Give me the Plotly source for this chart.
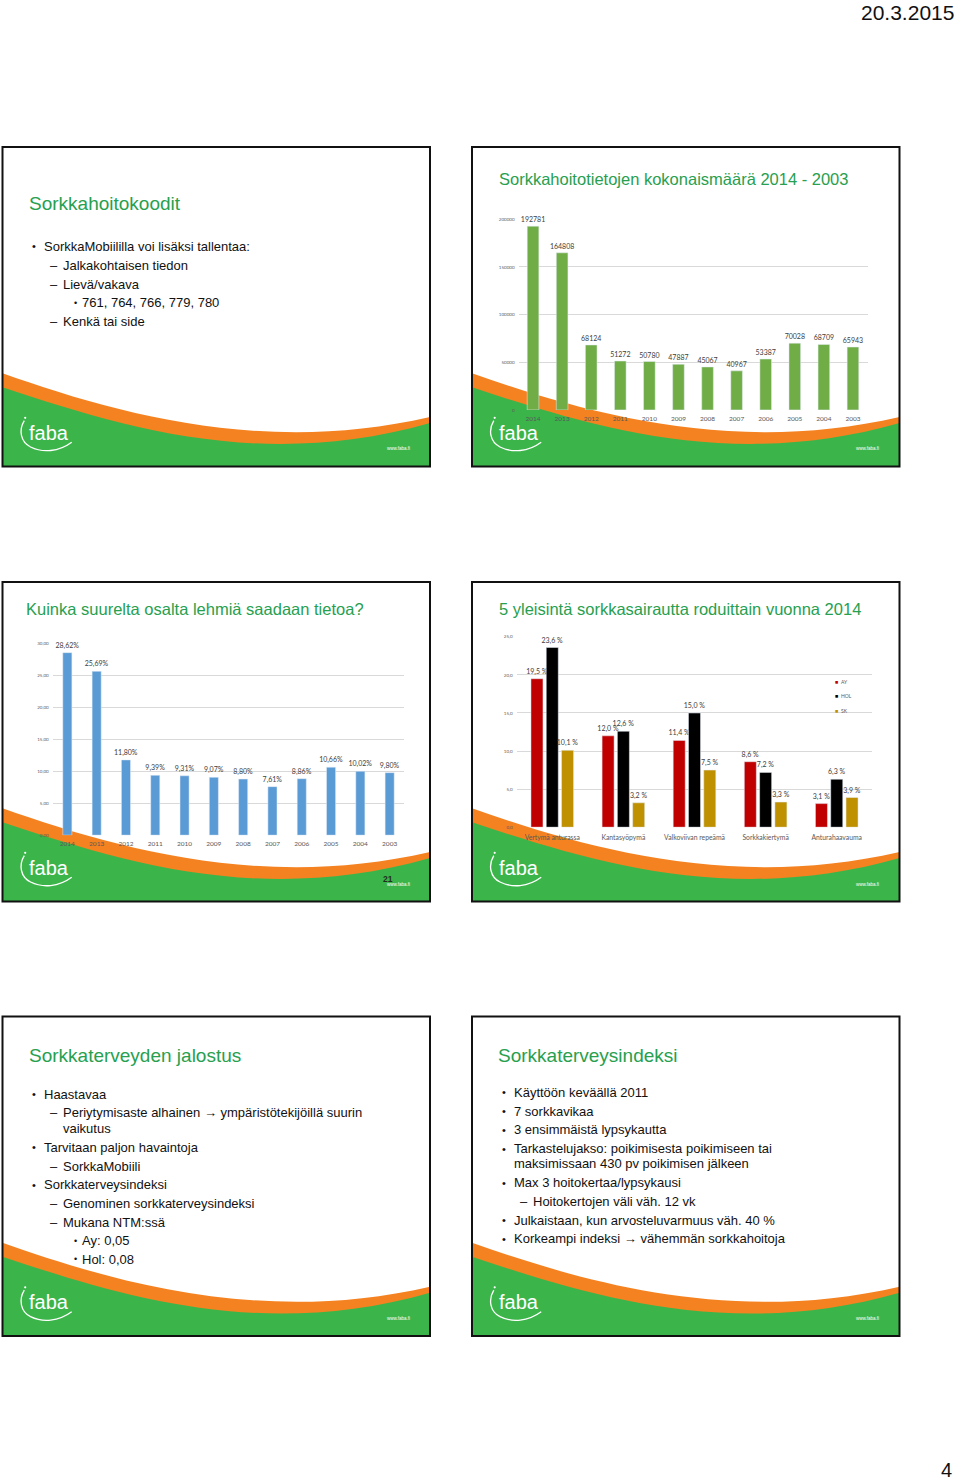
import plotly.graph_objects as go

W, H = 960, 1483

# ---------------- data ----------------
years = ["2014", "2013", "2012", "2011", "2010", "2009", "2008", "2007", "2006", "2005", "2004", "2003"]
hoof_records = [192781, 164808, 68124, 51272, 50780, 47887, 45067, 40967, 53387, 70028, 68709, 65943]
cow_share = [28.62, 25.69, 11.80, 9.39, 9.31, 9.07, 8.80, 7.61, 8.86, 10.66, 10.02, 9.80]
diseases = ["Vertymä anturassa", "Kantasyöpymä", "Valkoviivan repeämä", "Sorkkakiertymä", "Anturahaavauma"]
breeds = ["AY", "HOL", "SK"]
share_ay = [19.5, 12.0, 11.4, 8.6, 3.1]
share_hol = [23.6, 12.6, 15.0, 7.2, 6.3]
share_sk = [10.1, 3.2, 7.5, 3.3, 3.9]
records_ticks = [0, 50000, 100000, 150000, 200000]
share_ticks = [0, 5, 10, 15, 20, 25, 30]
disease_ticks = [0, 5, 10, 15, 20, 25]

ARROW = "<b>→</b>"
slide_titles = [
    "Sorkkahoitokoodit",
    "Sorkkahoitotietojen kokonaismäärä 2014 - 2003",
    "Kuinka suurelta osalta lehmiä saadaan tietoa?",
    "5 yleisintä sorkkasairautta roduittain vuonna 2014",
    "Sorkkaterveyden jalostus",
    "Sorkkaterveysindeksi",
]
slide1_lines = [
    (1, "SorkkaMobiililla voi lisäksi tallentaa:"),
    (2, "Jalkakohtaisen tiedon"),
    (2, "Lievä/vakava"),
    (3, "761, 764, 766, 779, 780"),
    (2, "Kenkä tai side"),
]
slide5_lines = [
    (1, "Haastavaa"),
    (2, f"Periytymisaste alhainen {ARROW} ympäristötekijöillä suurin"),
    (0, "vaikutus"),
    (1, "Tarvitaan paljon havaintoja"),
    (2, "SorkkaMobiili"),
    (1, "Sorkkaterveysindeksi"),
    (2, "Genominen sorkkaterveysindeksi"),
    (2, "Mukana NTM:ssä"),
    (3, "Ay: 0,05"),
    (3, "Hol: 0,08"),
]
slide6_lines = [
    (1, "Käyttöön keväällä 2011"),
    (1, "7 sorkkavikaa"),
    (1, "3 ensimmäistä lypsykautta"),
    (1, "Tarkastelujakso: poikimisesta poikimiseen tai"),
    (-1, "maksimissaan 430 pv poikimisen jälkeen"),
    (1, "Max 3 hoitokertaa/lypsykausi"),
    (2, "Hoitokertojen väli väh. 12 vk"),
    (1, "Julkaistaan, kun arvosteluvarmuus väh. 40 %"),
    (1, f"Korkeampi indeksi {ARROW} vähemmän sorkkahoitoja"),
]

# ---------------- styling ----------------
ARIAL = "Liberation Sans, Arial, sans-serif"
CAL = "Lato, Open Sans, sans-serif"
TITLE_GREEN = "#27a04f"
SW_GREEN = "#3bb54a"
SW_ORANGE = "#f58220"
C_REC = "#70ad47"
C_SHARE = "#5b9bd5"
C_BREED = ["#c00000", "#000000", "#bf9000"]
LBL = "#404040"
TICK = "#595959"
GRID = "#d9d9d9"

SW, SH = 427.5, 320.5
origins = [(2.5, 145.5), (472, 145.5), (2.5, 582), (472, 582), (2.5, 1018), (472, 1018)]

shapes = []
annotations = []


def txt(x, y, s, size, color="#111111", xanchor="left", family=ARIAL, yanchor="middle"):
    annotations.append(dict(x=x, y=y, xref="x", yref="y", text=s, showarrow=False,
                            xanchor=xanchor, yanchor=yanchor,
                            font=dict(size=size, color=color, family=family)))


# slides: background, swoosh, border, logo
for (ox, oy) in origins:
    shapes.append(dict(type="rect", xref="x", yref="y", x0=ox, y0=oy, x1=ox + SW, y1=oy + SH,
                       fillcolor="white", line=dict(width=0), layer="below"))
    orange = (f"M {ox},{oy+227} C {ox+110},{oy+266} {ox+260},{oy+310} {ox+SW},{oy+271} "
              f"L {ox+SW},{oy+SH} L {ox},{oy+SH} Z")
    green = (f"M {ox},{oy+241} C {ox+120},{oy+281} {ox+260},{oy+325} {ox+SW},{oy+277} "
             f"L {ox+SW},{oy+SH} L {ox},{oy+SH} Z")
    shapes.append(dict(type="path", xref="x", yref="y", path=orange, fillcolor=SW_ORANGE,
                       line=dict(width=0), layer="below"))
    shapes.append(dict(type="path", xref="x", yref="y", path=green, fillcolor=SW_GREEN,
                       line=dict(width=0), layer="below"))
    shapes.append(dict(type="rect", xref="x", yref="y", x0=ox, y0=oy, x1=ox + SW, y1=oy + SH,
                       fillcolor="rgba(0,0,0,0)", line=dict(width=2, color="#111111"), layer="below"))
    arc = (f"M {ox+21.8},{oy+274.5} C {ox+16},{oy+284} {ox+18},{oy+296} {ox+28},{oy+301} "
           f"C {ox+40},{oy+307} {ox+56},{oy+306} {ox+69.2},{oy+296.2}")
    shapes.append(dict(type="path", xref="x", yref="y", path=arc, line=dict(color="white", width=1.3),
                       layer="below"))
    shapes.append(dict(type="circle", xref="x", yref="y", x0=ox + 21.6, y0=oy + 270.6, x1=ox + 23.8,
                       y1=oy + 272.8, fillcolor="white", line=dict(width=0), layer="below"))
    txt(ox + 46.5, oy + 286.5, "faba", 20, "white", xanchor="center")
    txt(ox + 395.5, oy + 303, "www.faba.fi", 4.5, "white", xanchor="center")

# slide titles
title_pos = [(24, 56.3, 19), (24.7, 32.5, 16.5), (21, 26.7, 16.5), (24.7, 27, 16.5), (24, 39, 19), (24, 39, 19)]
for (ox, oy), t, (tx, ty, ts) in zip(origins, slide_titles, title_pos):
    txt(ox + tx, oy + ty, t, ts, TITLE_GREEN)


def bullets(ox, oy, lines, ys):
    for (lvl, s), y in zip(lines, ys):
        if lvl == 1:
            txt(ox + 27.5, oy + y, "•", 11)
            txt(ox + 39.8, oy + y, s, 13)
        elif lvl == -1:
            txt(ox + 39.8, oy + y, s, 13)
        elif lvl == 2:
            txt(ox + 45.5, oy + y, "–", 13)
            txt(ox + 58.5, oy + y, s, 13)
        elif lvl == 0:
            txt(ox + 58.5, oy + y, s, 13)
        elif lvl == 3:
            txt(ox + 69.5, oy + y, "•", 9)
            txt(ox + 77.5, oy + y, s, 13)


bullets(*origins[0], slide1_lines, [99.8, 118.8, 137.5, 156.2, 174.8])
bullets(*origins[4], slide5_lines, [77.7, 96.7, 112.3, 131, 150, 168.7, 187.3, 206.3, 225, 243.7])
bullets(*origins[5], slide6_lines, [76, 95, 113.7, 132.7, 147.7, 166.7, 185.3, 204.3, 223])

# header / footer / slide number
txt(956, 11, "20.3.2015", 21, "#111111", xanchor="right")
txt(954, 1473, "4", 20, "#111111", xanchor="right")
txt(origins[2][0] + 385.5, origins[2][1] + 298, "<b>21</b>", 8.5, "#1f2f1f", xanchor="center")

# legend of chart 3 (manual, small)
for i, (b, c) in enumerate(zip(breeds, C_BREED)):
    yy = 682 + i * 14.5
    txt(832.5, yy, "■", 5.5, c)
    txt(838.5, yy, b, 5, TICK, family=CAL)

fig = go.Figure()
# invisible anchor trace for pixel-based base axes
fig.add_trace(go.Scatter(x=[0], y=[0], mode="markers", marker=dict(opacity=0), hoverinfo="skip",
                         showlegend=False, xaxis="x", yaxis="y"))

fig.add_trace(go.Bar(x=years, y=hoof_records, marker_color=C_REC, width=0.4,
                     texttemplate="%{y:d}", textposition="outside", constraintext="none",
                     cliponaxis=False, textfont=dict(size=7, color=LBL, family=CAL),
                     xaxis="x2", yaxis="y2", showlegend=False, hoverinfo="x+y"))
fig.add_trace(go.Bar(x=years, y=cow_share, marker_color=C_SHARE, width=0.31,
                     texttemplate="%{y:.2f}%", textposition="outside", constraintext="none",
                     cliponaxis=False, textfont=dict(size=7, color=LBL, family=CAL),
                     xaxis="x3", yaxis="y3", showlegend=False, hoverinfo="x+y"))
offsets = [-0.2995, -0.0845, 0.1305]
for b, vals, c, off in zip(breeds, [share_ay, share_hol, share_sk], C_BREED, offsets):
    fig.add_trace(go.Bar(x=diseases, y=vals, name=b, marker_color=c, width=0.169, offset=off,
                         texttemplate="%{y:.1f} %", textposition="outside", constraintext="none",
                         cliponaxis=False, textfont=dict(size=7, color=LBL, family=CAL),
                         xaxis="x4", yaxis="y4", showlegend=False))


def xdom(a, b):
    return [a / W, b / W]


def ydom(top, bottom):
    return [1 - bottom / H, 1 - top / H]


cat_axis = dict(type="category", showgrid=False, showline=False, zeroline=False, ticks="",
                tickfont=dict(size=6.5, color=TICK, family=CAL), fixedrange=True)
val_axis = dict(showgrid=True, gridcolor=GRID, gridwidth=0.7, zeroline=False, showline=False, ticks="",
                tickfont=dict(size=4.5, color=TICK, family=CAL), fixedrange=True, ticklabelstandoff=3)

fig.update_layout(
    width=W, height=H, margin=dict(l=0, r=0, t=0, b=0),
    paper_bgcolor="white", plot_bgcolor="rgba(0,0,0,0)",
    separators=", ", showlegend=False,
    shapes=shapes, annotations=annotations,
    xaxis=dict(range=[0, W], domain=[0, 1], visible=False, fixedrange=True),
    yaxis=dict(range=[H, 0], domain=[0, 1], visible=False, fixedrange=True),
    xaxis2=dict(cat_axis, domain=xdom(518.5, 867.5), anchor="y2", categoryorder="array",
                categoryarray=years, ticklabelstandoff=4),
    yaxis2=dict(val_axis, domain=ydom(218, 409.3), anchor="x2", range=[0, 200000],
                tickvals=records_ticks, tickformat="d"),
    xaxis3=dict(cat_axis, domain=xdom(52.7, 404.3), anchor="y3", categoryorder="array",
                categoryarray=years, ticklabelstandoff=3),
    yaxis3=dict(val_axis, domain=ydom(644, 836), anchor="x3", range=[0, 30],
                tickvals=share_ticks, tickformat=".2f", ticksuffix="%"),
    xaxis4=dict(cat_axis, domain=xdom(516.7, 872.3), anchor="y4", categoryorder="array",
                categoryarray=diseases, ticklabelstandoff=5,
                tickfont=dict(size=6.8, color=TICK, family=CAL)),
    yaxis4=dict(val_axis, domain=ydom(637, 828), anchor="x4", range=[0, 25],
                tickvals=disease_ticks, tickformat=".1f", ticksuffix=" %"),
)

fig.write_html("out.html", config={"displayModeBar": False},
               post_script="document.body.style.margin='0px';document.body.style.overflow='hidden';")
